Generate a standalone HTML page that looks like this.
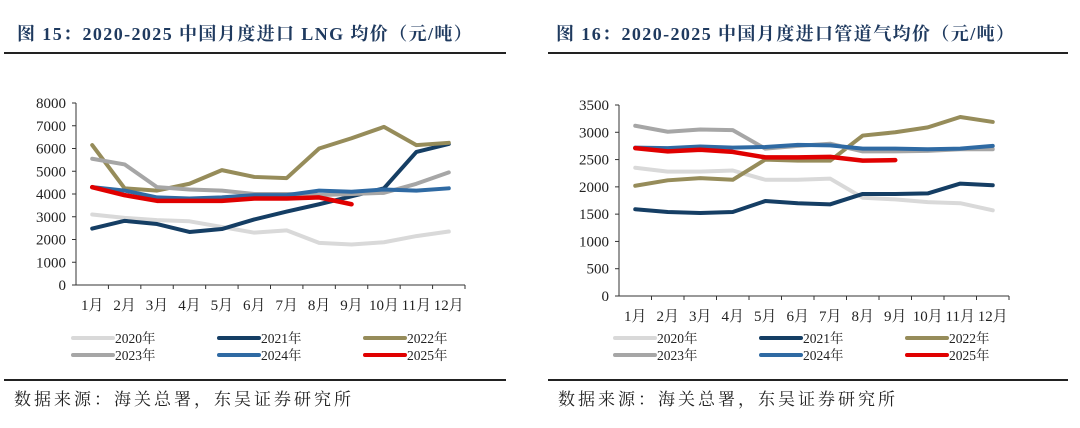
<!DOCTYPE html>
<html><head><meta charset="utf-8"><style>
body{margin:0;background:#fff;width:1080px;height:428px;overflow:hidden}
svg{display:block}
.t{font-family:"Liberation Serif","Noto Serif CJK SC",serif;font-weight:bold;font-size:18px;letter-spacing:1.4px;fill:#1f3a5f}
.tk{font-family:"Liberation Serif","Noto Serif CJK SC",serif;font-size:15px;fill:#222}
.lg{font-family:"Liberation Serif","Noto Serif CJK SC",serif;font-size:13.5px;fill:#222}
.src{font-family:"Liberation Serif","Noto Serif CJK SC",serif;font-size:17px;letter-spacing:3px;fill:#222}
</style></head><body>
<svg id="s" width="1080" height="428">
<text class="t" x="17" y="40">图 15：2020-2025 中国月度进口 LNG 均价（元/吨）</text>
<text class="t" x="556" y="40">图 16：2020-2025 中国月度进口管道气均价（元/吨）</text>
<rect x="4" y="52" width="502" height="2" fill="#222"/>
<rect x="548" y="52" width="520" height="2" fill="#222"/>
<rect x="4" y="379" width="502" height="2" fill="#222"/>
<rect x="548" y="379" width="520" height="2" fill="#222"/>
<text class="src" x="14" y="405">数据来源：海关总署，东吴证券研究所</text>
<text class="src" x="558" y="405">数据来源：海关总署，东吴证券研究所</text>
</svg>
<script>
const months=["1月","2月","3月","4月","5月","6月","7月","8月","9月","10月","11月","12月"];
const years=["2020年","2021年","2022年","2023年","2024年","2025年"];
const colors=["#d9d9d9","#153e64","#968c5a","#a6a6a6","#2f6aa3","#e00000"];
const lng2020=[3100,2950,2850,2800,2550,2300,2400,1850,1780,1880,2150,2350];
const lng2021=[2480,2820,2680,2330,2460,2880,3230,3550,3900,4250,5850,6200];
const lng2022=[6150,4250,4150,4450,5050,4750,4700,6000,6450,6950,6150,6250];
const lng2023=[5550,5300,4300,4200,4150,4000,4000,3950,4000,4050,4450,4950];
const lng2024=[4300,4150,3850,3800,3850,3950,3950,4150,4100,4200,4150,4250];
const lng2025=[4300,3950,3700,3700,3700,3800,3800,3850,3550];
const lngTicks=[0,1000,2000,3000,4000,5000,6000,7000,8000];
const pipe2020=[2350,2280,2280,2300,2130,2130,2150,1800,1770,1720,1700,1570];
const pipe2021=[1590,1540,1520,1540,1740,1700,1680,1870,1870,1880,2060,2030];
const pipe2022=[2020,2120,2160,2130,2500,2480,2480,2940,3000,3090,3280,3190];
const pipe2023=[3120,3010,3050,3040,2700,2750,2790,2650,2650,2660,2690,2690];
const pipe2024=[2720,2710,2740,2720,2730,2770,2760,2700,2700,2690,2700,2750];
const pipe2025=[2710,2650,2680,2640,2540,2540,2550,2480,2490];
const pipeTicks=[0,500,1000,1500,2000,2500,3000,3500];
const NS="http://www.w3.org/2000/svg";
const svg=document.getElementById('s');
function mk(t,a){const e=document.createElementNS(NS,t);for(const k in a)e.setAttribute(k,a[k]);svg.appendChild(e);return e;}
function chart(id,x0,x1,y0,yTop,max,ticks,series,lgx){
  const bw=(x1-x0)/12;
  const X=i=>x0+bw*(i+0.5);
  const Y=v=>y0-(v/max)*(y0-yTop);
  ticks.forEach(t=>{
    const e=mk('text',{x:x0-10,y:Y(t)+5,'text-anchor':'end',class:'tk'});e.textContent=t;
    
    
    const l=mk('line',{x1:x0-4,x2:x0,y1:Y(t),y2:Y(t),stroke:'#333','stroke-width':1});
    
    
  });
  const ya=mk('line',{x1:x0,x2:x0,y1:yTop,y2:y0,stroke:'#333','stroke-width':1});
  
  
  const xa=mk('line',{x1:x0,x2:x1,y1:y0,y2:y0,stroke:'#333','stroke-width':1});
  
  
  months.forEach((m,i)=>{
    const l=mk('line',{x1:x0+bw*(i+1),x2:x0+bw*(i+1),y1:y0,y2:y0+4,stroke:'#333'});
    
    
    const e=mk('text',{x:X(i),y:y0+25,'text-anchor':'middle',class:'tk'});e.textContent=m;
    
    
  });
  series.forEach((s,k)=>{
    const p=mk('polyline',{points:s.map((v,i)=>X(i)+','+Y(v)).join(' '),fill:'none',stroke:colors[k],'stroke-width':k==5?4.5:4,'stroke-linejoin':'round','stroke-linecap':'round'});
    
    
  });
  years.forEach((y,k)=>{
    const lx=lgx+(k%3)*146, ly=338+Math.floor(k/3)*17;
    const l=mk('line',{x1:lx,x2:lx+40,y1:ly,y2:ly,stroke:colors[k],'stroke-width':4,'stroke-linecap':'round'});
    
    
    const t=mk('text',{x:lx+42,y:ly+5,class:'lg'});t.textContent=y;
    
    
  });
}
chart('chart1',76,465,285,103,8000,lngTicks,[lng2020,lng2021,lng2022,lng2023,lng2024,lng2025],73);
chart('chart2',619,1009,296,105,3500,pipeTicks,[pipe2020,pipe2021,pipe2022,pipe2023,pipe2024,pipe2025],615);
</script>
</body></html>
